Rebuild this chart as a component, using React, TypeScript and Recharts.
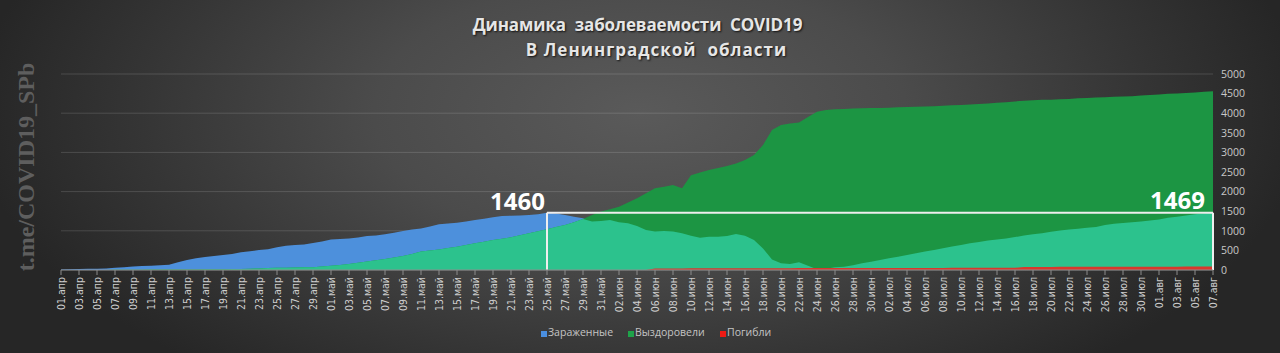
import React from "react";
import { AreaChart, Area, XAxis, YAxis, CartesianGrid, ReferenceLine, ReferenceDot } from "recharts";

// month short names and number of days shown
const months: [string, number][] = [
  ["апр", 30],
  ["май", 31],
  ["июн", 30],
  ["июл", 31],
  ["авг", 7],
];
const dates: string[] = months.flatMap(([m, n]) =>
  Array.from({ length: n }, (_, i) => `${String(i + 1).padStart(2, "0")}.${m}`)
);

// active cases
const infected = [
  15, 20, 25, 30, 35, 40, 55, 70, 90, 105, 110, 120, 135, 200, 255, 300, 330, 355, 380, 410,
  450, 480, 510, 530, 580, 620, 635, 650, 690, 730,
  780, 790, 805, 830, 865, 880, 915, 950, 995, 1030, 1060, 1110, 1170, 1185, 1205, 1240, 1275, 1310, 1345, 1375,
  1385, 1390, 1400, 1425, 1460, 1440, 1400, 1360, 1320, 1235, 1250,
  1275, 1215, 1190, 1120, 1020, 980, 995, 980, 935, 875, 825, 850, 850, 865, 920, 875, 765, 550, 270, 170,
  155, 195, 110, 20, 30, 70, 85, 120, 170, 210,
  255, 300, 340, 380, 425, 470, 510, 555, 600, 640, 680, 715, 750, 780, 805, 840, 880, 910, 940, 975,
  1005, 1035, 1055, 1075, 1100, 1150, 1180, 1200, 1215, 1235, 1265,
  1290, 1330, 1360, 1390, 1420, 1445, 1469,
];

// recovered
const recovered = [
  0, 0, 0, 0, 2, 3, 5, 5, 7, 8, 10, 10, 12, 12, 15, 15, 18, 20, 22, 25,
  28, 32, 40, 48, 55, 60, 65, 70, 72, 90,
  110, 130, 155, 185, 215, 250, 280, 320, 355, 410, 470, 500, 525, 560, 595, 640, 680, 720, 765, 800,
  835, 885, 935, 990, 1040, 1100, 1150, 1220, 1300, 1400, 1490,
  1550, 1615, 1720, 1830, 1960, 2085, 2125, 2170, 2085, 2420, 2490, 2550, 2600, 2650, 2720, 2805, 2935, 3190, 3570, 3700,
  3740, 3760, 3900, 4040, 4080, 4100, 4110, 4120, 4125, 4130,
  4135, 4140, 4150, 4160, 4165, 4170, 4180, 4190, 4200, 4210, 4220, 4235, 4250, 4265, 4280, 4300, 4320, 4330, 4340, 4345,
  4355, 4365, 4380, 4390, 4400, 4410, 4420, 4425, 4435, 4450, 4465,
  4480, 4495, 4505, 4515, 4530, 4545, 4560,
];

// deaths
const deaths = [
  0, 0, 0, 0, 0, 0, 0, 0, 0, 0, 0, 0, 0, 0, 0, 0, 0, 0, 0, 0,
  0, 0, 0, 0, 0, 0, 0, 0, 0, 0,
  0, 0, 0, 0, 0, 0, 0, 0, 0, 0, 0, 0, 0, 0, 0, 0, 0, 0, 0, 0,
  0, 0, 0, 0, 0, 0, 0, 0, 0, 0, 0,
  0, 0, 0, 0, 0, 40, 40, 41, 41, 42, 42, 43, 43, 44, 44, 45, 45, 46, 46, 47,
  47, 48, 48, 49, 49, 50, 50, 50, 51, 51,
  52, 52, 52, 53, 53, 54, 54, 54, 55, 55, 56, 56, 56, 57, 57, 58, 78, 78, 79, 79,
  80, 80, 81, 81, 82, 82, 83, 83, 84, 84, 85,
  85, 86, 86, 87, 87, 88, 88,
];

const yTicks = [0, 500, 1000, 1500, 2000, 2500, 3000, 3500, 4000, 4500, 5000];

const boxStart = "25.май";
const boxEnd = "07.авг";
const peakFirst = 1460;
const peakLast = 1469;

const data = dates.map((d, i) => ({
  date: d,
  infected: infected[i],
  recovered: recovered[i],
  overlap: Math.min(infected[i], recovered[i]),
  deaths: deaths[i],
}));

const DateTick = (props: any) => {
  const { x, y, payload } = props;
  return (
    <g transform={`translate(${x},${y})`}>
      <text
        transform="rotate(-90)"
        textAnchor="end"
        dy="0.35em"
        fill="#cfcfcf"
        fontSize={10.5}
        fontFamily="'Liberation Sans Narrow', 'DejaVu Sans Condensed', sans-serif"
      >
        {payload.value}
      </text>
    </g>
  );
};

const PeakLabel = (props: any) => {
  const { viewBox, text, dx = 0, dy = 0 } = props;
  if (!viewBox) return null;
  return (
    <text
      x={viewBox.x + dx}
      y={viewBox.y + dy}
      textAnchor="end"
      fill="#ffffff"
      fontSize={24}
      fontWeight="bold"
      fontFamily="'Open Sans', sans-serif"
    >
      {text}
    </text>
  );
};

const legendItems = [
  { name: "Зараженные", color: "#4a8fe0", left: 541 },
  { name: "Выздоровели", color: "#1fa34a", left: 628 },
  { name: "Погибли", color: "#ee1b14", left: 720 },
];

const titleStyle: React.CSSProperties = {
  position: "absolute",
  width: 1280,
  textAlign: "center",
  color: "#e6e6e6",
  fontFamily: "'Open Sans', sans-serif",
  fontWeight: "bold",
  fontSize: 17,
  lineHeight: "20px",
  whiteSpace: "pre",
  textShadow: "1px 1px 2px rgba(0,0,0,0.8)",
};

export default function App() {
  return (
    <div
      style={{
        position: "absolute",
        left: 0,
        top: 0,
        width: 1280,
        height: 353,
        overflow: "hidden",
        background:
          "radial-gradient(ellipse 52% 95% at 50% 32%, #5a5a5a 0%, #4b4b4b 40%, #353535 75%, #262626 100%)",
      }}
    >
      <AreaChart width={1280} height={353} data={data} margin={{ top: 74, right: 12, bottom: 0, left: 61 }}>
        <CartesianGrid vertical={false} stroke="rgba(255,255,255,0.14)" />
        <XAxis
          dataKey="date"
          interval={1}
          height={83}
          tickSize={5}
          tickMargin={2}
          axisLine={{ stroke: "#8c8c8c" }}
          tickLine={{ stroke: "#8c8c8c" }}
          tick={<DateTick />}
        />
        <YAxis
          orientation="right"
          domain={[0, 5000]}
          ticks={yTicks}
          width={55}
          axisLine={false}
          tickLine={false}
          tick={{ fill: "#c8c8c8", fontSize: 10.5, fontFamily: "'Open Sans', sans-serif", textAnchor: "start" }}
        />
        <Area
          type="linear"
          dataKey="infected"
          name="Зараженные"
          stroke="none"
          fill="#4d90dc"
          fillOpacity={1}
          isAnimationActive={false}
          activeDot={false}
        />
        <Area
          type="linear"
          dataKey="recovered"
          name="Выздоровели"
          stroke="none"
          fill="#1c9543"
          fillOpacity={1}
          isAnimationActive={false}
          activeDot={false}
        />
        <Area
          type="linear"
          dataKey="overlap"
          legendType="none"
          stroke="none"
          fill="#2cc28d"
          fillOpacity={1}
          isAnimationActive={false}
          activeDot={false}
        />
        <Area
          type="linear"
          dataKey="deaths"
          name="Погибли"
          stroke="none"
          fill="#d8392c"
          fillOpacity={1}
          isAnimationActive={false}
          activeDot={false}
        />
        <ReferenceLine
          segment={[
            { x: boxStart, y: 0 },
            { x: boxStart, y: peakFirst },
          ]}
          stroke="#eeeeee"
          strokeWidth={2}
        />
        <ReferenceLine
          segment={[
            { x: boxStart, y: peakFirst },
            { x: boxEnd, y: peakFirst },
          ]}
          stroke="#eeeeee"
          strokeWidth={2}
        />
        <ReferenceLine
          segment={[
            { x: boxEnd, y: 0 },
            { x: boxEnd, y: peakFirst },
          ]}
          stroke="#eeeeee"
          strokeWidth={2}
        />
        <ReferenceDot x={boxStart} y={peakFirst} r={0} label={<PeakLabel text={String(peakFirst)} dx={-2} dy={-3} />} />
        <ReferenceDot x={boxEnd} y={peakFirst} r={0} label={<PeakLabel text={String(peakLast)} dx={-8} dy={-4} />} />
      </AreaChart>

      <div style={{ ...titleStyle, left: -2.5, top: 14.5, letterSpacing: -0.1 }}>
        {"Динамика  заболеваемости  COVID19"}
      </div>
      <div style={{ ...titleStyle, left: 16.5, top: 39.5, letterSpacing: 1 }}>
        {"В Ленинградской  области"}
      </div>

      <div
        style={{
          position: "absolute",
          left: 26,
          top: 167,
          transform: "translate(-50%, -50%) rotate(-90deg)",
          whiteSpace: "nowrap",
          color: "#5e5e5e",
          fontFamily: "'Liberation Serif', serif",
          fontWeight: "bold",
          fontSize: 24,
        }}
      >
        t.me/COVID19_SPb
      </div>

      {legendItems.map((it) => (
        <React.Fragment key={it.name}>
          <span
            style={{
              position: "absolute",
              left: it.left,
              top: 331,
              width: 6,
              height: 6,
              background: it.color,
            }}
          />
          <span
            style={{
              position: "absolute",
              left: it.left + 7,
              top: 326,
              lineHeight: "12px",
              whiteSpace: "nowrap",
              fontFamily: "'Open Sans', sans-serif",
              fontSize: 10.5,
              color: "#c4c4c4",
            }}
          >
            {it.name}
          </span>
        </React.Fragment>
      ))}
    </div>
  );
}
